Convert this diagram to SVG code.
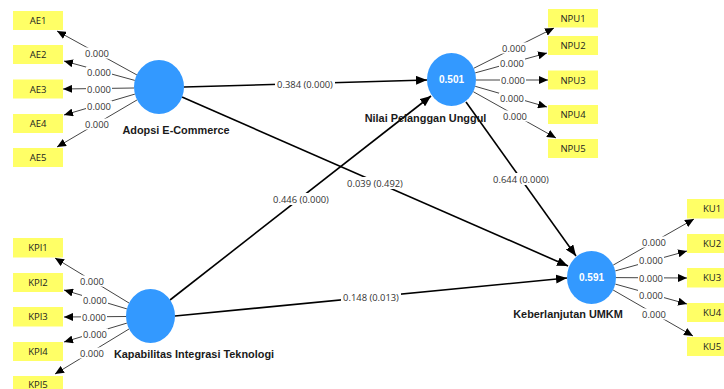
<svg xmlns="http://www.w3.org/2000/svg" width="724" height="389" viewBox="0 0 724 389">
<defs>
<marker id="ah" markerUnits="userSpaceOnUse" markerWidth="11" markerHeight="9" refX="11" refY="4.5" orient="auto"><path d="M0,0 L11,4.5 L0,9 z" fill="#000"/></marker>
<marker id="ahs" markerUnits="userSpaceOnUse" markerWidth="9" markerHeight="8" refX="9" refY="4" orient="auto"><path d="M0,0 L9,4 L0,8 z" fill="#000"/></marker>
<style>
.ind{fill:#FFFF66}
.it{font-family:"Open Sans","Liberation Sans",Arial,sans-serif;font-size:9.5px;fill:#222;text-anchor:middle}
.lv{fill:#3399FF}
.lvv{font-family:"Liberation Sans",Arial,sans-serif;font-size:10px;font-weight:bold;fill:#fff;text-anchor:middle}
.lvn{font-family:"Liberation Sans",Arial,sans-serif;font-size:10.9px;font-weight:bold;fill:#1a1a1a;text-anchor:middle}
.ld{stroke:#444;stroke-width:1;fill:none;marker-end:url(#ahs)}
.st{stroke:#000;stroke-width:1.6;fill:none;marker-end:url(#ah)}
.lb{font-family:"Open Sans","Liberation Sans",Arial,sans-serif;font-size:9.4px;fill:#333;text-anchor:middle}
.bg{fill:#fff}
</style>
</defs>
<rect width="724" height="389" fill="#fff"/>

<g id="connectors">
<line class="st" x1="184" y1="87" x2="427" y2="80"/>
<line class="st" x1="182" y1="97" x2="568" y2="266"/>
<line class="st" x1="170" y1="300" x2="431" y2="96"/>
<line class="st" x1="175" y1="316" x2="567" y2="278"/>
<line class="st" x1="466" y1="102" x2="576" y2="256"/>

<line class="ld" x1="137" y1="75" x2="57" y2="31"/>
<line class="ld" x1="134.8" y1="80.4" x2="64" y2="61"/>
<line class="ld" x1="134" y1="88" x2="63" y2="89"/>
<line class="ld" x1="134.9" y1="94.1" x2="64" y2="115"/>
<line class="ld" x1="137.1" y1="99.9" x2="57" y2="147"/>

<line class="ld" x1="473.7" y1="68.3" x2="554" y2="28"/>
<line class="ld" x1="475.2" y1="72.9" x2="547" y2="53"/>
<line class="ld" x1="476" y1="80" x2="548" y2="80"/>
<line class="ld" x1="475.2" y1="86.3" x2="547" y2="107"/>
<line class="ld" x1="473.3" y1="91.7" x2="556" y2="138"/>

<line class="ld" x1="129" y1="303" x2="55" y2="258"/>
<line class="ld" x1="126.9" y1="308.9" x2="64" y2="290"/>
<line class="ld" x1="126" y1="316.5" x2="64" y2="317"/>
<line class="ld" x1="126.9" y1="323.1" x2="64" y2="342"/>
<line class="ld" x1="129" y1="329" x2="55" y2="374"/>

<line class="ld" x1="613.2" y1="265.1" x2="694" y2="219"/>
<line class="ld" x1="615.3" y1="270.9" x2="687" y2="251"/>
<line class="ld" x1="616" y1="277.6" x2="687" y2="278"/>
<line class="ld" x1="615.3" y1="284.1" x2="687" y2="304"/>
<line class="ld" x1="613.1" y1="290" x2="693" y2="336"/>

<g id="path-labels">
<rect class="bg" x="275" y="78" width="60" height="12"/><text class="lb" x="305" y="87.5">0.384 (0.000)</text>
<rect class="bg" x="345" y="177" width="60" height="12"/><text class="lb" x="375" y="186.5">0.039 (0.492)</text>
<rect class="bg" x="271" y="193" width="60" height="12"/><text class="lb" x="301" y="202.5">0.446 (0.000)</text>
<rect class="bg" x="341" y="291" width="60" height="12"/><text class="lb" x="371" y="300.5">0.148 (0.013)</text>
<rect class="bg" x="491" y="173" width="60" height="12"/><text class="lb" x="521" y="182.5">0.644 (0.000)</text>
</g>
<g id="loading-labels">
<rect class="bg" x="84" y="47.5" width="26" height="11"/><text class="lb" x="97" y="56.5">0.000</text>
<rect class="bg" x="86" y="66.5" width="26" height="11"/><text class="lb" x="99" y="75.5">0.000</text>
<rect class="bg" x="86" y="83.5" width="26" height="11"/><text class="lb" x="99" y="92.5">0.000</text>
<rect class="bg" x="86" y="100.5" width="26" height="11"/><text class="lb" x="99" y="109.5">0.000</text>
<rect class="bg" x="84" y="118.5" width="26" height="11"/><text class="lb" x="97" y="127.5">0.000</text>

<rect class="bg" x="501" y="42.5" width="26" height="11"/><text class="lb" x="514" y="51.5">0.000</text>
<rect class="bg" x="499" y="57.5" width="26" height="11"/><text class="lb" x="512" y="66.5">0.000</text>
<rect class="bg" x="500" y="74.5" width="26" height="11"/><text class="lb" x="513" y="83.5">0.000</text>
<rect class="bg" x="499" y="92.5" width="26" height="11"/><text class="lb" x="512" y="101.5">0.000</text>
<rect class="bg" x="502" y="110.5" width="26" height="11"/><text class="lb" x="515" y="119.5">0.000</text>

<rect class="bg" x="79" y="275.5" width="26" height="11"/><text class="lb" x="92" y="284.5">0.000</text>
<rect class="bg" x="82" y="294.5" width="26" height="11"/><text class="lb" x="95" y="303.5">0.000</text>
<rect class="bg" x="81" y="311.5" width="26" height="11"/><text class="lb" x="94" y="320.5">0.000</text>
<rect class="bg" x="82" y="328.5" width="26" height="11"/><text class="lb" x="95" y="337.5">0.000</text>
<rect class="bg" x="79" y="347.5" width="26" height="11"/><text class="lb" x="92" y="356.5">0.000</text>

<rect class="bg" x="641" y="236.5" width="26" height="11"/><text class="lb" x="654" y="245.5">0.000</text>
<rect class="bg" x="638" y="254.5" width="26" height="11"/><text class="lb" x="651" y="263.5">0.000</text>
<rect class="bg" x="638" y="272.5" width="26" height="11"/><text class="lb" x="651" y="281.5">0.000</text>
<rect class="bg" x="638" y="289.5" width="26" height="11"/><text class="lb" x="651" y="298.5">0.000</text>
<rect class="bg" x="641" y="308.5" width="26" height="11"/><text class="lb" x="654" y="317.5">0.000</text>
</g>
</g>

<g id="AE"><ellipse class="lv" cx="159" cy="87" rx="25" ry="27"/><text class="lvn" x="176" y="134">Adopsi E-Commerce</text></g>
<g id="NPU"><ellipse class="lv" cx="451.5" cy="79.5" rx="24.5" ry="26.5"/><text class="lvv" x="451.5" y="83">0.501</text><text class="lvn" x="425.5" y="122">Nilai Pelanggan Unggul</text></g>
<g id="KPI"><ellipse class="lv" cx="150.5" cy="316" rx="24.5" ry="27"/><text class="lvn" x="194" y="358">Kapabilitas Integrasi Teknologi</text></g>
<g id="KU"><ellipse class="lv" cx="591.5" cy="277.5" rx="24.5" ry="26.5"/><text class="lvv" x="591.5" y="281">0.591</text><text class="lvn" x="568" y="318">Keberlanjutan UMKM</text></g>

<g id="AE1"><rect class="ind" x="13" y="11" width="50" height="19"/><text class="it" x="38" y="24">AE1</text></g>
<g id="AE2"><rect class="ind" x="13" y="45" width="50" height="19"/><text class="it" x="38" y="58">AE2</text></g>
<g id="AE3"><rect class="ind" x="13" y="79.5" width="50" height="19"/><text class="it" x="38" y="92.5">AE3</text></g>
<g id="AE4"><rect class="ind" x="13" y="114" width="50" height="19"/><text class="it" x="38" y="127">AE4</text></g>
<g id="AE5"><rect class="ind" x="13" y="148" width="50" height="19"/><text class="it" x="38" y="161">AE5</text></g>

<g id="NPU1"><rect class="ind" x="548" y="9" width="50" height="18.5"/><text class="it" x="573" y="22">NPU1</text></g>
<g id="NPU2"><rect class="ind" x="548" y="36" width="50" height="19"/><text class="it" x="573" y="49">NPU2</text></g>
<g id="NPU3"><rect class="ind" x="548" y="70.5" width="50" height="19"/><text class="it" x="573" y="83.5">NPU3</text></g>
<g id="NPU4"><rect class="ind" x="548" y="105" width="50" height="19"/><text class="it" x="573" y="118">NPU4</text></g>
<g id="NPU5"><rect class="ind" x="548" y="139" width="50" height="19"/><text class="it" x="573" y="152">NPU5</text></g>

<g id="KPI1"><rect class="ind" x="13" y="238" width="50" height="19.5"/><text class="it" x="38" y="251">KPI1</text></g>
<g id="KPI2"><rect class="ind" x="13" y="273" width="50" height="19"/><text class="it" x="38" y="286">KPI2</text></g>
<g id="KPI3"><rect class="ind" x="13" y="307" width="50" height="19.5"/><text class="it" x="38" y="320">KPI3</text></g>
<g id="KPI4"><rect class="ind" x="13" y="342" width="50" height="19"/><text class="it" x="38" y="355">KPI4</text></g>
<g id="KPI5"><rect class="ind" x="13" y="376" width="50" height="19"/><text class="it" x="38" y="388">KPI5</text></g>

<g id="KU1"><rect class="ind" x="687" y="199" width="50" height="19.5"/><text class="it" x="712" y="212">KU1</text></g>
<g id="KU2"><rect class="ind" x="687" y="234" width="50" height="19"/><text class="it" x="712" y="247">KU2</text></g>
<g id="KU3"><rect class="ind" x="687" y="268" width="50" height="19.5"/><text class="it" x="712" y="281">KU3</text></g>
<g id="KU4"><rect class="ind" x="687" y="303" width="50" height="19"/><text class="it" x="712" y="316">KU4</text></g>
<g id="KU5"><rect class="ind" x="687" y="337" width="50" height="19"/><text class="it" x="712" y="350">KU5</text></g>
</svg>
